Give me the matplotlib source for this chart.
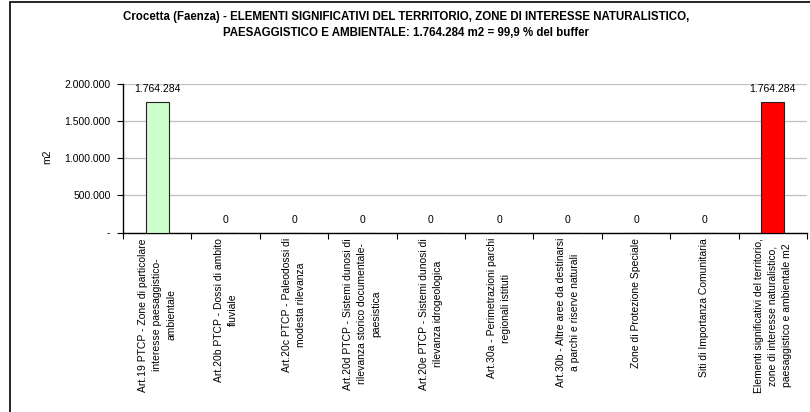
import matplotlib
matplotlib.use("Agg")
import matplotlib.pyplot as plt
from matplotlib.patches import Rectangle
from matplotlib.ticker import FixedLocator

plt.rcParams["font.family"] = ["Liberation Sans", "DejaVu Sans"]

# Chart data
categories = [
    "Art.19 PTCP - Zone di particolare\ninteresse paesaggistico-\nambientale",
    "Art.20b PTCP - Dossi di ambito\nfluviale",
    "Art.20c PTCP - Paleodossi di\nmodesta rilevanza",
    "Art.20d PTCP - Sistemi dunosi di\nrilevanza storico documentale-\npaesistica",
    "Art.20e PTCP - Sistemi dunosi di\nrilevanza idrogeologica",
    "Art.30a - Perimetrazioni parchi\nregionali istituti",
    "Art.30b - Altre aree da destinarsi\na parchi e riserve naturali",
    "Zone di Protezione Speciale",
    "Siti di Importanza Comunitaria",
    "Elementi significativi del territorio,\nzone di interesse naturalistico,\npaesaggistico e ambientale m2",
]
values = [1764284, 0, 0, 0, 0, 0, 0, 0, 0, 1764284]
bar_colors = ["#ccffcc"] * 9 + ["#ff0000"]
y_ticks = [0, 500000, 1000000, 1500000, 2000000]
y_tick_labels = ["-", "500.000", "1.000.000", "1.500.000", "2.000.000"]

title_lines = [
    "Crocetta (Faenza) - ELEMENTI SIGNIFICATIVI DEL TERRITORIO, ZONE DI INTERESSE NATURALISTICO,",
    "PAESAGGISTICO E AMBIENTALE: 1.764.284 m2 = 99,9 % del buffer",
]


def fmt_it(v):
    return f"{v:,.0f}".replace(",", ".")


W, H = 810, 412
fig = plt.figure(figsize=(W / 100, H / 100), dpi=100)
fig.patch.set_facecolor("white")

# chart-area frame
fig.patches.append(Rectangle((10 / W, -0.2), 1.2, 1.2 - 1.5 / H, transform=fig.transFigure,
                             fill=False, edgecolor="black", linewidth=1.2, clip_on=False))

ax = fig.add_axes([123 / W, 1 - 232.5 / H, 684 / W, 148.5 / H])
x = list(range(len(values)))
ax.bar(x, values, width=0.34, color=bar_colors, edgecolor="#222222", linewidth=0.8, zorder=3)

ax.set_xlim(-0.5, len(values) - 0.5)
ax.set_ylim(0, 2000000)

ax.yaxis.set_major_locator(FixedLocator(y_ticks))
ax.set_yticklabels(y_tick_labels, fontsize=7.5)
ax.grid(axis="y", color="#c0c0c0", linewidth=0.9, zorder=0)
ax.set_axisbelow(True)

# ticks on category boundaries, labels drawn separately
ax.xaxis.set_major_locator(FixedLocator([i - 0.5 for i in range(len(values) + 1)]))
ax.set_xticklabels([])
ax.tick_params(axis="x", direction="out", length=4, width=0.8)
ax.tick_params(axis="y", direction="out", length=4, width=0.8, pad=5)

for s in ["top", "right"]:
    ax.spines[s].set_visible(False)
for s in ["left", "bottom"]:
    ax.spines[s].set_linewidth(1.0)

for xi, v in zip(x, values):
    ax.annotate(fmt_it(v), (xi, v), xytext=(0, 9), textcoords="offset points",
                ha="center", va="center", fontsize=7.5)

for xi, lab in zip(x, categories):
    ax.annotate(lab, (xi, 0), xytext=(0, -4), textcoords="offset points",
                ha="center", va="top", rotation=90, fontsize=7.5,
                multialignment="center", linespacing=1.5, annotation_clip=False)

fig.text(47 / W, 1 - 157 / H, "m2", rotation=90, ha="center", va="center", fontsize=7.5)

for i, line in enumerate(title_lines):
    fig.text(406 / W, 1 - (17 + 16 * i) / H, line, ha="center", va="center",
             fontsize=8.3, fontweight="bold")

fig.savefig("out.png", dpi=100)
